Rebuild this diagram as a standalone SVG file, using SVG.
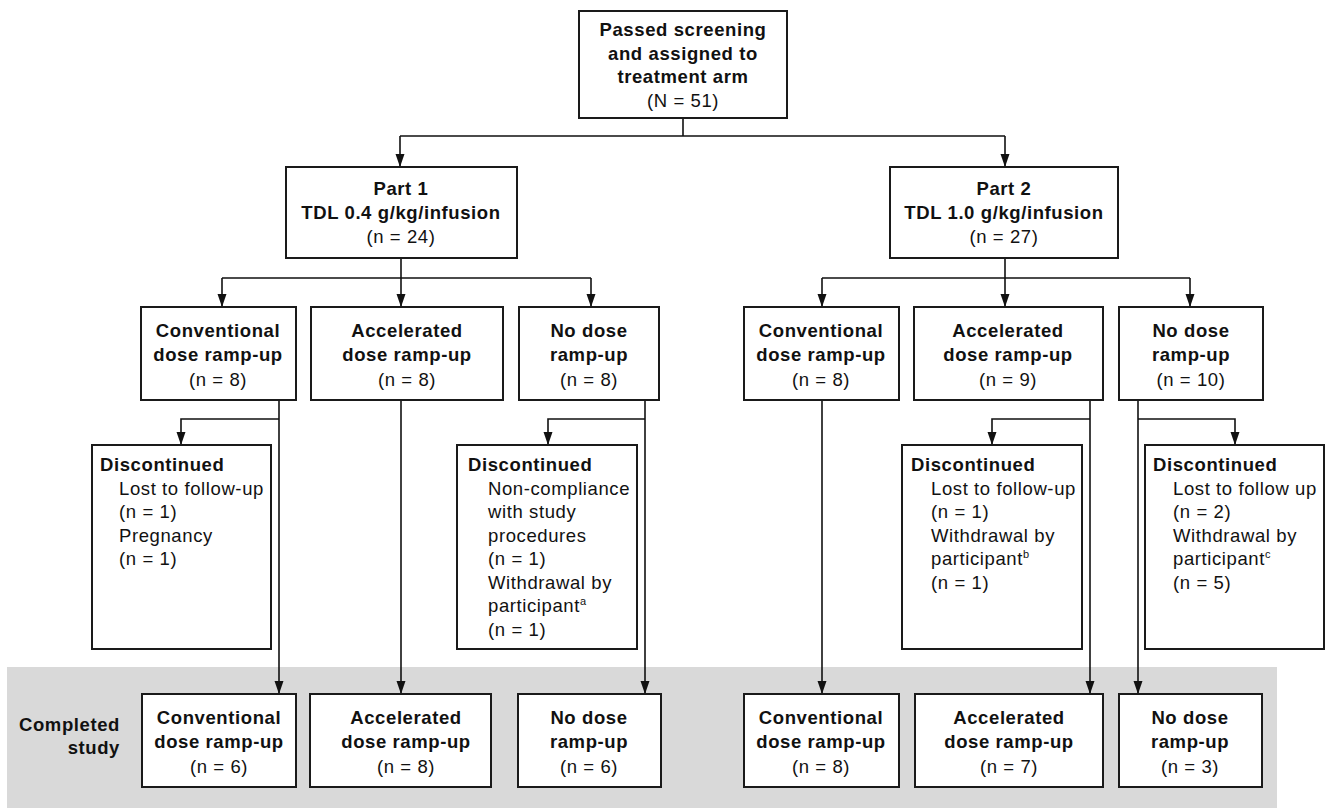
<svg xmlns="http://www.w3.org/2000/svg" width="1325" height="808" viewBox="0 0 1325 808">
<defs>
<marker id="ah" markerUnits="userSpaceOnUse" markerWidth="14" markerHeight="10" refX="13" refY="4.5" orient="auto">
<path d="M0,0 L13,4.5 L0,9 z" fill="#111"/>
</marker>
<style>
.box{fill:#fff;stroke:#1a1a1a;stroke-width:2}
.ln{fill:none;stroke:#111;stroke-width:1.6}
.ar{fill:none;stroke:#111;stroke-width:1.6;marker-end:url(#ah)}
text{font-family:"Liberation Sans",Arial,sans-serif;font-size:18.5px;letter-spacing:0.6px;fill:#111}
.c{text-anchor:middle}
.b{font-weight:bold}
.sup{font-size:11px;letter-spacing:0}
</style>
</defs>
<rect x="7" y="667" width="1270" height="141" fill="#d9d9d9"/>
<g id="connectors">
<path class="ln" d="M683,118 V136 M400,136 H1005"/>
<path class="ar" d="M400,136 V167"/>
<path class="ar" d="M1005,136 V167"/>
<path class="ln" d="M401,258 V278 M222,278 H591"/>
<path class="ar" d="M222,278 V307"/>
<path class="ar" d="M401,278 V307"/>
<path class="ar" d="M591,278 V307"/>
<path class="ln" d="M1005,258 V278 M822,278 H1190"/>
<path class="ar" d="M822,278 V307"/>
<path class="ar" d="M1005,278 V307"/>
<path class="ar" d="M1190,278 V307"/>
<path class="ar" d="M279,400 V694"/>
<path class="ar" d="M279,419 H181 V445"/>
<path class="ar" d="M401,400 V694"/>
<path class="ar" d="M645,400 V694"/>
<path class="ar" d="M645,419 H548 V445"/>
<path class="ar" d="M822,400 V694"/>
<path class="ar" d="M1090,400 V694"/>
<path class="ar" d="M1090,419 H992 V445"/>
<path class="ar" d="M1138,400 V694"/>
<path class="ar" d="M1138,419 H1235 V445"/>
</g>
<g id="top">
<rect class="box" x="579" y="11" width="208" height="107"/>
<text class="c b" x="683" y="36">Passed screening</text>
<text class="c b" x="683" y="60">and assigned to</text>
<text class="c b" x="683" y="83">treatment arm</text>
<text class="c" x="683" y="107">(N = 51)</text>
</g>
<g id="part1">
<rect class="box" x="286" y="167" width="231" height="91"/>
<text class="c b" x="401" y="195">Part 1</text>
<text class="c b" x="401" y="219">TDL 0.4 g/kg/infusion</text>
<text class="c" x="401" y="243">(n = 24)</text>
</g>
<g id="part2">
<rect class="box" x="890" y="167" width="228" height="91"/>
<text class="c b" x="1004" y="195">Part 2</text>
<text class="c b" x="1004" y="219">TDL 1.0 g/kg/infusion</text>
<text class="c" x="1004" y="243">(n = 27)</text>
</g>
<g id="p1-conv">
<rect class="box" x="141" y="307" width="155" height="93"/>
<text class="c b" x="218" y="337">Conventional</text>
<text class="c b" x="218" y="361">dose ramp-up</text>
<text class="c" x="218" y="386">(n = 8)</text>
</g>
<g id="p1-acc">
<rect class="box" x="311" y="307" width="192" height="93"/>
<text class="c b" x="407" y="337">Accelerated</text>
<text class="c b" x="407" y="361">dose ramp-up</text>
<text class="c" x="407" y="386">(n = 8)</text>
</g>
<g id="p1-none">
<rect class="box" x="519" y="307" width="140" height="93"/>
<text class="c b" x="589" y="337">No dose</text>
<text class="c b" x="589" y="361">ramp-up</text>
<text class="c" x="589" y="386">(n = 8)</text>
</g>
<g id="p2-conv">
<rect class="box" x="744" y="307" width="155" height="93"/>
<text class="c b" x="821" y="337">Conventional</text>
<text class="c b" x="821" y="361">dose ramp-up</text>
<text class="c" x="821" y="386">(n = 8)</text>
</g>
<g id="p2-acc">
<rect class="box" x="914" y="307" width="189" height="93"/>
<text class="c b" x="1008" y="337">Accelerated</text>
<text class="c b" x="1008" y="361">dose ramp-up</text>
<text class="c" x="1008" y="386">(n = 9)</text>
</g>
<g id="p2-none">
<rect class="box" x="1119" y="307" width="144" height="93"/>
<text class="c b" x="1191" y="337">No dose</text>
<text class="c b" x="1191" y="361">ramp-up</text>
<text class="c" x="1191" y="386">(n = 10)</text>
</g>
<g id="disc-p1-conv">
<rect class="box" x="92" y="445" width="179" height="204"/>
<text class="b" x="100" y="471">Discontinued</text>
<text x="119" y="495">Lost to follow-up</text>
<text x="119" y="518">(n = 1)</text>
<text x="119" y="542">Pregnancy</text>
<text x="119" y="565">(n = 1)</text>
</g>
<g id="disc-p1-none">
<rect class="box" x="457" y="445" width="180" height="204"/>
<text class="b" x="468" y="471">Discontinued</text>
<text x="488" y="495">Non-compliance</text>
<text x="488" y="518">with study</text>
<text x="488" y="542">procedures</text>
<text x="488" y="565">(n = 1)</text>
<text x="488" y="589">Withdrawal by</text>
<text x="488" y="612">participant<tspan class="sup" dy="-7">a</tspan></text>
<text x="488" y="636">(n = 1)</text>
</g>
<g id="disc-p2-acc">
<rect class="box" x="902" y="445" width="180" height="204"/>
<text class="b" x="911" y="471">Discontinued</text>
<text x="931" y="495">Lost to follow-up</text>
<text x="931" y="518">(n = 1)</text>
<text x="931" y="542">Withdrawal by</text>
<text x="931" y="565">participant<tspan class="sup" dy="-7">b</tspan></text>
<text x="931" y="589">(n = 1)</text>
</g>
<g id="disc-p2-none">
<rect class="box" x="1145" y="445" width="179" height="204"/>
<text class="b" x="1153" y="471">Discontinued</text>
<text x="1173" y="495">Lost to follow up</text>
<text x="1173" y="518">(n = 2)</text>
<text x="1173" y="542">Withdrawal by</text>
<text x="1173" y="565">participant<tspan class="sup" dy="-7">c</tspan></text>
<text x="1173" y="589">(n = 5)</text>
</g>
<g id="completed-label">
<text class="b" x="120" y="731" text-anchor="end">Completed</text>
<text class="b" x="120" y="754" text-anchor="end">study</text>
</g>
<g id="c-p1-conv">
<rect class="box" x="142" y="694" width="154" height="93"/>
<text class="c b" x="219" y="724">Conventional</text>
<text class="c b" x="219" y="748">dose ramp-up</text>
<text class="c" x="219" y="773">(n = 6)</text>
</g>
<g id="c-p1-acc">
<rect class="box" x="310" y="694" width="181" height="93"/>
<text class="c b" x="406" y="724">Accelerated</text>
<text class="c b" x="406" y="748">dose ramp-up</text>
<text class="c" x="406" y="773">(n = 8)</text>
</g>
<g id="c-p1-none">
<rect class="box" x="518" y="694" width="143" height="93"/>
<text class="c b" x="589" y="724">No dose</text>
<text class="c b" x="589" y="748">ramp-up</text>
<text class="c" x="589" y="773">(n = 6)</text>
</g>
<g id="c-p2-conv">
<rect class="box" x="744" y="694" width="155" height="93"/>
<text class="c b" x="821" y="724">Conventional</text>
<text class="c b" x="821" y="748">dose ramp-up</text>
<text class="c" x="821" y="773">(n = 8)</text>
</g>
<g id="c-p2-acc">
<rect class="box" x="915" y="694" width="188" height="93"/>
<text class="c b" x="1009" y="724">Accelerated</text>
<text class="c b" x="1009" y="748">dose ramp-up</text>
<text class="c" x="1009" y="773">(n = 7)</text>
</g>
<g id="c-p2-none">
<rect class="box" x="1119" y="694" width="143" height="93"/>
<text class="c b" x="1190" y="724">No dose</text>
<text class="c b" x="1190" y="748">ramp-up</text>
<text class="c" x="1190" y="773">(n = 3)</text>
</g>
</svg>
